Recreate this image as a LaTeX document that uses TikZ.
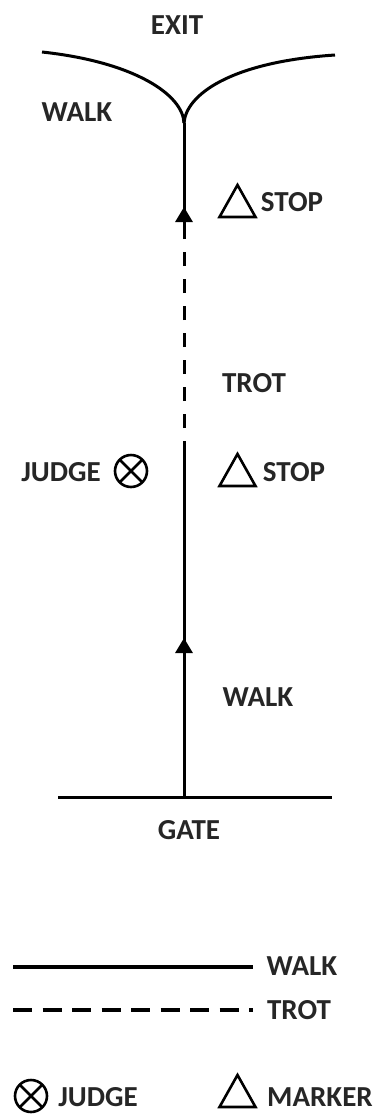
\documentclass[tikz,border=0pt]{standalone}
\usepackage{fontspec}
\setmainfont{Carlito}
\usetikzlibrary{arrows.meta}
\begin{document}
\begin{tikzpicture}[x=1pt,y=-1pt,
  lbl/.style={inner sep=0pt, font=\fontsize{29}{29}\selectfont\bfseries, text=black!85},
  route/.style={line width=3pt, black},
  trotline/.style={line width=3pt, black, dash pattern=on 14pt off 13pt},
  tip/.style={line width=3pt, black, -{Triangle[length=15pt,width=17pt]}},
  marker/.pic={\draw[line width=2.6pt, line join=miter] (-18,16) -- (18,16) -- (0,-16) -- cycle;},
  judgesym/.pic={\draw[line width=2.6pt] (0,0) circle (16);
     \draw[line width=2.6pt] (-11.3,-11.3) -- (11.3,11.3) (-11.3,11.3) -- (11.3,-11.3);}
]
\useasboundingbox (0,0) rectangle (382,1117);

% route coordinates
\coordinate (gL) at (58,797);
\coordinate (gR) at (332,797);
\coordinate (g) at (184,797);
\coordinate (a1) at (184,638);
\coordinate (a1b) at (184,648);
\coordinate (s1) at (184,455);
\coordinate (d1) at (184,237);
\coordinate (a2) at (184,207);
\coordinate (a2b) at (184,217);
\coordinate (j) at (184,123);
\coordinate (eL) at (42,52);
\coordinate (eR) at (335,55);

% gate
\draw[route] (gL) -- (gR);
% walk part
\draw[tip] (g) -- (a1);
\draw[route] (a1b) -- (s1);
% trot part
\draw[trotline] (s1) -- (d1);
% walk to exit
\draw[tip] (d1) -- (a2);
\draw[route] (a2b) -- (j);
\draw[route] (j) .. controls (183,95) and (135,62) .. (eL);
\draw[route] (j) .. controls (186,95) and (230,62) .. (eR);

% labels
\node[lbl] (exit) at (177,25) {EXIT};
\node[lbl] (walk1) at (77,112) {WALK};
\pic at (237.5,201) {marker};
\node[lbl] (stop1) at (292,202) {STOP};
\node[lbl] (trot) at (254,383) {TROT};
\node[lbl] (judge) at (61,472) {JUDGE};
\pic at (131,471) {judgesym};
\pic at (237.5,470) {marker};
\node[lbl] (stop2) at (294,472) {STOP};
\node[lbl] (walk2) at (258,697) {WALK};
\node[lbl] (gate) at (189,830) {GATE};

% legend
\coordinate (lw1) at (13,967);
\coordinate (lw2) at (253,967);
\coordinate (lt1) at (13,1010);
\coordinate (lt2) at (253,1010);
\draw[line width=4pt] (lw1) -- (lw2);
\draw[line width=3.5pt, dash pattern=on 19pt off 10.5pt] (lt1) -- (lt2);
\node[lbl] (lwalk) at (302,966) {WALK};
\node[lbl] (ltrot) at (299,1010) {TROT};
\pic at (31,1096) {judgesym};
\node[lbl] (ljudge) at (98,1097) {JUDGE};
\pic at (237.5,1091) {marker};
\node[lbl] (lmarker) at (320,1097) {MARKER};
\end{tikzpicture}
\end{document}
